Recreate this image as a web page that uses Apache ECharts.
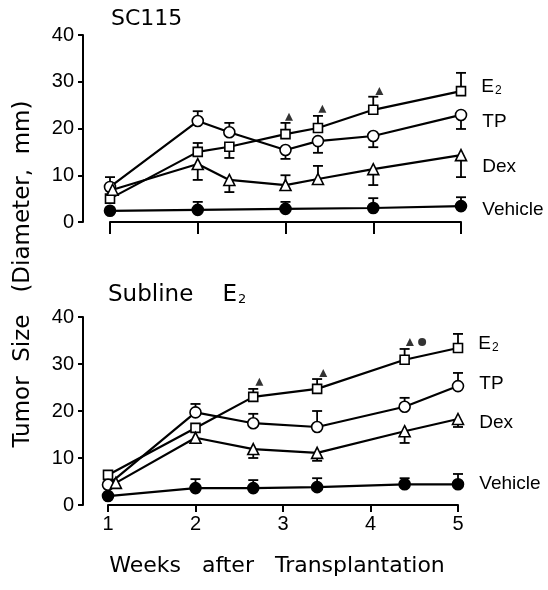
<!DOCTYPE html>
<html>
<head>
<meta charset="utf-8">
<title>Tumor Size</title>
<script src="https://cdn.jsdelivr.net/npm/echarts@6/dist/echarts.min.js"></script>
<style>
  html, body { margin: 0; padding: 0; background: #fff; }
  #chart { width: 548px; height: 590px; }
</style>
</head>
<body>
<div id="chart"></div>
<script>
// ---- data (mm) ----
// SC115 panel
var topWeeks    = [1, 2, 2.36, 3, 3.37, 4, 5];
var topWeeksDex = [1.03, 2, 2.36, 3, 3.37, 4, 5];
var topWeeksVeh = [1, 2, 3, 4, 5];
var topE2   = [5.0, 15.0, 16.1, 18.8, 20.1, 24.0, 28.0];
var topE2Err  = [null, 16.9, 13.7, 21.2, 22.7, 26.8, 31.9];
var topTP   = [7.5, 21.6, 19.2, 15.4, 17.3, 18.4, 22.9];
var topTPErr  = [9.6, 23.7, 21.2, 13.5, 14.8, 16.0, 19.9];
var topDex  = [6.9, 12.4, 9.0, 7.9, 9.2, 11.3, 14.3];
var topDexErr = [null, 9.0, 6.4, 10.0, 12.0, 7.9, 9.6];
var topVeh  = [2.4, 2.6, 2.8, 3.0, 3.4];
var topVehErr = [null, 4.3, 4.3, 5.1, 5.3];
var topSigX = [3.04, 3.42, 4.07, 5.06];
var topSigY = [22.5, 24.2, 28.0, 33.6];

// Subline E2 panel
var botWeeks    = [1, 2, 2.66, 3.39, 4.39, 5];
var botWeeksDex = [1.09, 2, 2.66, 3.39, 4.39, 5];
var botE2   = [6.4, 16.4, 23.0, 24.7, 30.9, 33.4];
var botE2Err  = [null, null, 24.7, 26.8, 33.2, 36.4];
var botTP   = [4.3, 19.7, 17.4, 16.6, 20.9, 25.3];
var botTPErr  = [null, 21.5, 19.4, 20.0, 22.8, 28.1];
var botDex  = [4.7, 14.3, 11.9, 11.1, 15.7, 18.3];
var botDexErr = [null, 13.2, 10.0, 9.4, 13.2, 16.6];
var botVeh  = [1.9, 3.6, 3.6, 3.8, 4.4, 4.4];
var botVehErr = [null, 5.5, 5.3, 5.7, 5.7, 6.6];
var botSigTriX = [2.73, 3.46, 4.45, 5.09];
var botSigTriY = [26.2, 28.1, 34.7, 37.7];
var botSigDotX = [4.59];
var botSigDotY = [34.7];

var weekLabels = ['1', '2', '3', '4', '5'];
var yTicks = [0, 10, 20, 30, 40];

var labelFont = 'Liberation Sans, Arial, sans-serif';
var titleFont = 'DejaVu Sans, sans-serif';

function pts(xs, ys) {
  return xs.map(function (x, i) { return [x, ys[i]]; });
}

function errData(xs, ys, caps) {
  var out = [];
  xs.forEach(function (x, i) {
    if (caps[i] != null) out.push([x, ys[i], caps[i]]);
  });
  return out;
}

function renderErr(params, api) {
  var p = api.coord([api.value(0), api.value(1)]);
  var c = api.coord([api.value(0), api.value(2)]);
  var st = { stroke: '#000', lineWidth: 1.8 };
  return {
    type: 'group',
    children: [
      { type: 'line', shape: { x1: p[0], y1: p[1], x2: c[0], y2: c[1] }, style: st },
      { type: 'line', shape: { x1: c[0] - 5, y1: c[1], x2: c[0] + 5, y2: c[1] }, style: st }
    ]
  };
}

var rich = {
  sub: { fontSize: 12, fontFamily: labelFont, color: '#000', verticalAlign: 'bottom', padding: [8, 0, 0, 1] }
};

function lineSeries(g, xs, ys, sym, size, fill, text, dy) {
  var data = pts(xs, ys);
  var last = data.length - 1;
  data[last] = {
    value: data[last],
    label: {
      show: true, position: 'right', distance: 15, offset: [0, dy],
      formatter: text, color: '#000', fontSize: 19, fontFamily: labelFont, rich: rich
    }
  };
  return {
    type: 'line', xAxisIndex: g, yAxisIndex: g, data: data,
    symbol: sym, symbolSize: size, showSymbol: true, z: 3,
    lineStyle: { color: '#000', width: 2.2 },
    itemStyle: { color: fill, borderColor: '#000', borderWidth: 1.6 },
    emphasis: { disabled: true }
  };
}

function errSeries(g, data) {
  return {
    type: 'custom', xAxisIndex: g, yAxisIndex: g, data: data, z: 1,
    encode: { x: 0, y: [1, 2] }, renderItem: renderErr, silent: true
  };
}

function sigSeries(g, xs, ys, sym) {
  return {
    type: 'scatter', xAxisIndex: g, yAxisIndex: g, data: pts(xs, ys),
    symbol: sym, symbolSize: 8, itemStyle: { color: '#000' }, z: 3, silent: true
  };
}

function xAxisCfg(g, showLabels, tickLen) {
  return {
    type: 'value', gridIndex: g, min: 1, max: 5, interval: 1,
    axisLine: { lineStyle: { color: '#000', width: 2 } },
    axisTick: { show: true, length: tickLen, lineStyle: { color: '#000', width: 2 } },
    axisLabel: {
      show: showLabels, color: '#000', fontSize: 20, fontFamily: labelFont, margin: 9,
      formatter: function (v) { return weekLabels[v - 1]; }
    },
    splitLine: { show: false }
  };
}

function yAxisCfg(g, offset) {
  return {
    type: 'value', gridIndex: g, min: yTicks[0], max: yTicks[yTicks.length - 1], interval: 10,
    offset: offset,
    axisLine: { show: true, lineStyle: { color: '#000', width: 2 } },
    axisTick: { show: true, length: 5, lineStyle: { color: '#000', width: 2 } },
    axisLabel: { color: '#000', fontSize: 20, fontFamily: labelFont, margin: 9 },
    splitLine: { show: false }
  };
}

var chart = echarts.init(document.getElementById('chart'));
var option = {
  animation: false,
  backgroundColor: '#fff',
  grid: [
    { left: 110, right: 87, top: 35, height: 187 },
    { left: 108, right: 90, top: 317, height: 188 }
  ],
  xAxis: [xAxisCfg(0, false, 12), xAxisCfg(1, true, 7)],
  yAxis: [yAxisCfg(0, 27), yAxisCfg(1, 25)],
  graphic: [
    { type: 'text', x: 111, y: 19,
      style: { text: 'SC115', font: '22px ' + titleFont, fill: '#000', verticalAlign: 'middle' } },
    { type: 'text', x: 108, y: 295,
      style: { text: 'Subline    E{sub|2}', font: '23px ' + titleFont, fill: '#000', verticalAlign: 'middle',
               rich: { sub: { fontSize: 13, fontFamily: titleFont, verticalAlign: 'bottom', padding: [9, 0, 0, 1] } } } },
    { type: 'text', x: 23, y: 274, rotation: Math.PI / 2,
      style: { text: 'Tumor  Size   (Diameter,  mm)', font: '23px ' + titleFont, fill: '#000',
               align: 'center', verticalAlign: 'middle' } },
    { type: 'text', x: 277, y: 566,
      style: { text: 'Weeks   after   Transplantation', font: '22px ' + titleFont, fill: '#000',
               align: 'center', verticalAlign: 'middle' } }
  ],
  series: [
    errSeries(0, errData(topWeeks, topE2, topE2Err)),
    errSeries(0, errData(topWeeks, topTP, topTPErr)),
    errSeries(0, errData(topWeeksDex, topDex, topDexErr)),
    errSeries(0, errData(topWeeksVeh, topVeh, topVehErr)),
    lineSeries(0, topWeeks, topE2, 'rect', 9, '#fff', 'E{sub|2}', -4),
    lineSeries(0, topWeeks, topTP, 'circle', 11, '#fff', 'TP', 7),
    lineSeries(0, topWeeksDex, topDex, 'triangle', 11, '#fff', 'Dex', 12),
    lineSeries(0, topWeeksVeh, topVeh, 'circle', 11, '#000', 'Vehicle', 4),
    sigSeries(0, topSigX, topSigY, 'triangle'),

    errSeries(1, errData(botWeeks, botE2, botE2Err)),
    errSeries(1, errData(botWeeks, botTP, botTPErr)),
    errSeries(1, errData(botWeeksDex, botDex, botDexErr)),
    errSeries(1, errData(botWeeks, botVeh, botVehErr)),
    lineSeries(1, botWeeks, botE2, 'rect', 9, '#fff', 'E{sub|2}', -4),
    lineSeries(1, botWeeks, botTP, 'circle', 11, '#fff', 'TP', -2),
    lineSeries(1, botWeeksDex, botDex, 'triangle', 11, '#fff', 'Dex', 4),
    lineSeries(1, botWeeks, botVeh, 'circle', 11, '#000', 'Vehicle', -1),
    sigSeries(1, botSigTriX, botSigTriY, 'triangle'),
    sigSeries(1, botSigDotX, botSigDotY, 'circle')
  ]
};
chart.setOption(option);
</script>
</body>
</html>
